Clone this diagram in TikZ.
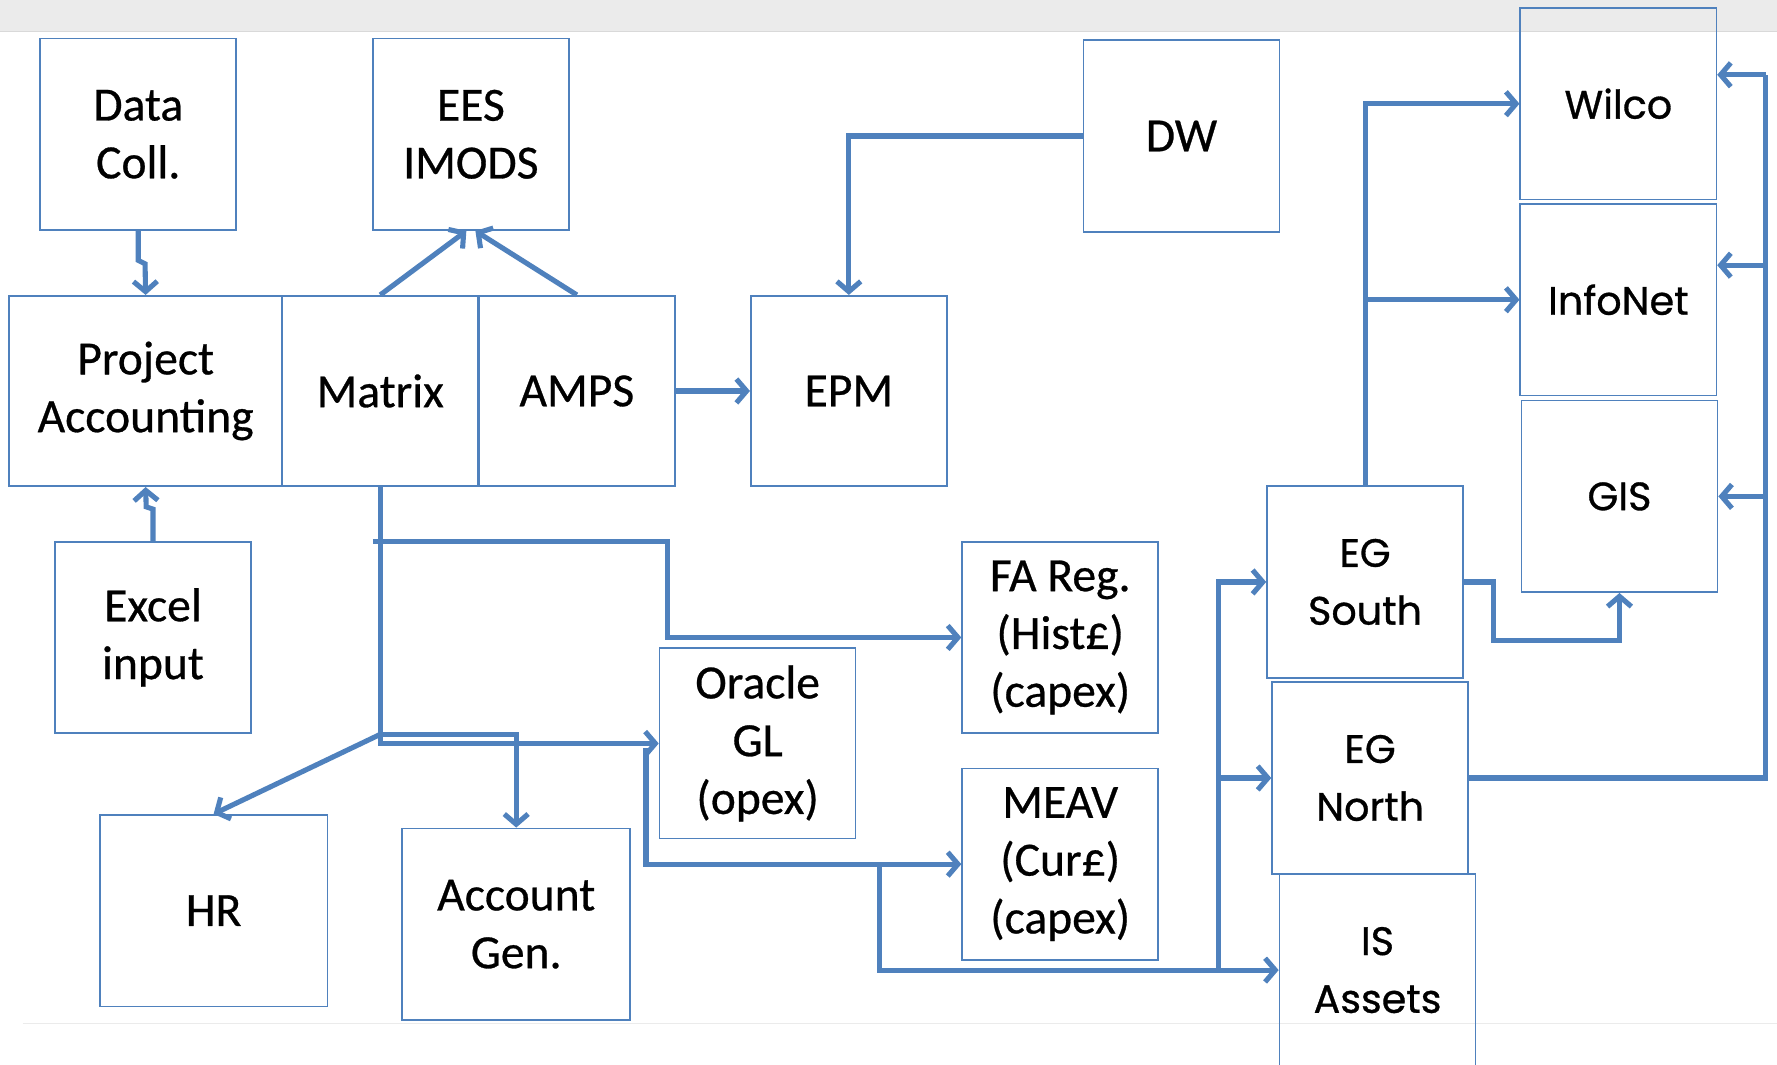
\documentclass[tikz,border=0pt]{standalone}
\usepackage{fontspec}
\setmainfont{Carlito}[FakeBold=0.6,AutoFakeBold=0.6]
\newfontfamily\geo{Poppins}[FakeBold=0.8,AutoFakeBold=0.8]
\usetikzlibrary{arrows.meta,calc}
\definecolor{ob}{HTML}{4F81BD}
\begin{document}
\begin{tikzpicture}[x=1pt,y=-1pt,
  bx/.style={draw=ob,line width=1.5pt,inner sep=0pt,align=center,
     font=\fontsize{42}{51}\selectfont\bfseries},
  bxs/.style={bx,minimum width=173pt,minimum height=169pt},
  bxw/.style={bx,minimum width=201pt,minimum height=169pt},
  gbx/.style={bxs,font=\geo\fontsize{35}{51}\selectfont\bfseries},
  con/.style={draw=ob,line width=4.5pt},
  arr/.style={con,-{Straight Barb[length=9pt,width=21pt]}}]
\useasboundingbox (0,0) rectangle (1568,939);
\fill[black!8] (0,0) rectangle (1568,28);
\draw[black!15,line width=1pt] (0,28) -- (1568,28);
\draw[black!8,line width=1pt] (20,903) -- (1568,903);
% boxes
\node[bxs] (dc) at (122,118.5) {Data\\Coll.};
\node[bxs] (ees) at (415.5,118.5) {EES\\IMODS};
\node[bxs] (dw) at (1042.5,120) {DW};
\node[gbx] (wil) at (1428,91.5) {Wilco};
\node[gbx] (inf) at (1428,264.5) {InfoNet};
\node[gbx] (gis) at (1429,438) {GIS};
\node[bx,minimum width=241pt,minimum height=168pt] (pa) at (128.5,345) {Project\\Accounting};
\node[bxs,minimum height=168pt] (mat) at (335.5,345) {Matrix};
\node[bxs,minimum height=168pt] (amps) at (509,345) {AMPS};
\node[bxs,minimum height=168pt] (epm) at (749,345) {EPM};
\node[bxs] (exc) at (135,562.5) {Excel\\input};
\node[bxs] (fa) at (935.5,562.5) {FA Reg.\\(Hist£)\\(capex)};
\node[bxs,minimum height=168pt] (ogl) at (668.5,656) {Oracle\\GL\\(opex)};
\node[bxs] (meav) at (935.5,762.5) {MEAV\\(Cur£)\\(capex)};
\node[bxw] (hr) at (188.5,803.5) {HR};
\node[bxw] (ag) at (455.5,815.5) {Account\\Gen.};
\node[gbx] (egs) at (1204.5,513.5) {EG\\South};
\node[gbx] (egn) at (1209,686.5) {EG\\North};
\node[gbx,minimum height=170pt] (isa) at (1215.5,856) {IS\\Assets};
% junctions
\coordinate (j1) at (335.5,648);
\coordinate (j2) at (329,478);
\coordinate (j3) at (570,660);
\coordinate (j4) at (776,762.5);
\coordinate (j5) at (1075,856);
\coordinate (rt) at (1558,66);
\coordinate (r2) at (1558,234);
% connectors
\draw[arr] (dc.south) -- ++(0,26) -- ++(6,3) -- (pa.north);
\draw[arr] (exc.north) -- ++(0,-28) -- ++(-6,-2) -- (pa.south);
\draw[arr] (mat.north) -- ([xshift=-4pt]ees.south);
\draw[arr] (amps.north) -- ([xshift=4pt]ees.south);
\draw[arr] (amps.east) -- (epm.west);
\draw[arr] (dw.west) -| (epm.north);
\draw[arr] (mat.south) |- (ogl.west);
\draw[arr] (j1) -| (ag.north);
\draw[arr] (j1) -- (hr.north);
\draw[arr] (j2) -- (589,478) |- (fa.west);
\draw[arr] (j3) |- (meav.west);
\draw[arr] (j4) |- (isa.west);
\draw[arr] (j5) |- (egs.west);
\draw[arr] (egn.west -| j5) -- (egn.west);
\draw[arr] (egs.north) |- (wil.west);
\draw[arr] (egs.north |- inf.west) -- (inf.west);
\draw[arr] (egs.east) -- ++(26,0) -- ++(0,52) -| (gis.south);
\draw[con] (egn.east) -| (rt);
\draw[arr] (rt) -- (wil.east |- rt);
\draw[arr] (r2) -- (inf.east |- r2);
\draw[arr] (gis.east -| rt) -- (gis.east);
\end{tikzpicture}
\end{document}
